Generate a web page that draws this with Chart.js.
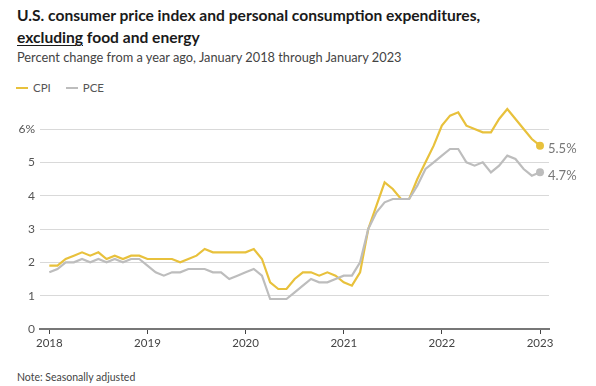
<!DOCTYPE html>
<html lang="en">
<head>
<meta charset="UTF-8">
<title>CPI and PCE excluding food and energy</title>
<script src="https://cdn.jsdelivr.net/npm/chart.js@4"></script>
<style>
  body { margin: 0; width: 596px; height: 386px; background: #fff; font-family: Lato, "Open Sans", sans-serif; color: #222; position: relative; overflow: hidden; }
  .title { position: absolute; left: 17px; top: 4px; font-size: 15.6px; font-weight: 700; line-height: 22px; color: #1a1a1a; }
  .title u { text-decoration-thickness: 1px; text-underline-offset: 2px; }
  .subtitle { position: absolute; left: 17px; top: 49px; font-size: 12.8px; line-height: 16px; color: #444; }
  .legend { position: absolute; left: 16px; top: 81px; font-size: 11.5px; line-height: 14px; color: #555; }
  .legend span { display: inline-block; margin-right: 12px; }
  .legend i { display: inline-block; width: 12px; height: 2px; vertical-align: middle; margin-right: 5px; position: relative; top: -1px; }
  .note { position: absolute; left: 17px; top: 370px; font-size: 10.5px; line-height: 14px; color: #444; }
  .wrap { position: absolute; left: 0; top: 100px; width: 596px; height: 260px; }
</style>
</head>
<body>
  <div class="title">U.S. consumer price index and personal consumption expenditures,<br><u>excluding</u> food and energy</div>
  <div class="subtitle">Percent change from a year ago, January 2018 through January 2023</div>
  <div class="legend">
    <span><i style="background:#e8c13c"></i>CPI</span>
    <span><i style="background:#bdbdbd"></i>PCE</span>
  </div>
  <div class="wrap"><canvas id="chart"></canvas></div>
  <div class="note">Note: Seasonally adjusted</div>

<script>
// monthly values, Jan 2018 .. Jan 2023
const cpi = [
  1.9, 1.9, 2.1, 2.2, 2.3, 2.2, 2.3, 2.1, 2.2, 2.1, 2.2, 2.2,
  2.1, 2.1, 2.1, 2.1, 2.0, 2.1, 2.2, 2.4, 2.3, 2.3, 2.3, 2.3,
  2.3, 2.4, 2.1, 1.4, 1.2, 1.2, 1.5, 1.7, 1.7, 1.6, 1.7, 1.6,
  1.4, 1.3, 1.7, 3.0, 3.7, 4.4, 4.2, 3.9, 3.9, 4.5, 5.0, 5.5,
  6.1, 6.4, 6.5, 6.1, 6.0, 5.9, 5.9, 6.3, 6.6, 6.3, 6.0, 5.7,
  5.5
];
const pce = [
  1.7, 1.8, 2.0, 2.0, 2.1, 2.0, 2.1, 2.0, 2.1, 2.0, 2.1, 2.1,
  1.9, 1.7, 1.6, 1.7, 1.7, 1.8, 1.8, 1.8, 1.7, 1.7, 1.5, 1.6,
  1.7, 1.8, 1.6, 0.9, 0.9, 0.9, 1.1, 1.3, 1.5, 1.4, 1.4, 1.5,
  1.6, 1.6, 2.0, 3.0, 3.5, 3.8, 3.9, 3.9, 3.9, 4.3, 4.8, 5.0,
  5.2, 5.4, 5.4, 5.0, 4.9, 5.0, 4.7, 4.9, 5.2, 5.1, 4.8, 4.6,
  4.7
];
const yearLabels = ['2018', '2019', '2020', '2021', '2022', '2023'];
const yearTicks = [0, 12, 24, 36, 48, 60];
const yLabels = ['0', '1', '2', '3', '4', '5', '6%'];

const cpiColor = '#e8c13c';
const pceColor = '#bdbdbd';
const last = cpi.length - 1;

const toPoints = arr => arr.map((v, i) => ({ x: i, y: v }));
const endRadius = ctx => (ctx.dataIndex === last ? 4 : 0);

// end-of-line value labels
const endLabels = {
  id: 'endLabels',
  afterDatasetsDraw(chart) {
    const ctx = chart.ctx;
    ctx.save();
    ctx.font = '13px Lato, "Open Sans", sans-serif';
    ctx.fillStyle = '#777';
    ctx.textBaseline = 'middle';
    chart.data.datasets.forEach((ds, i) => {
      const pt = chart.getDatasetMeta(i).data[last];
      ctx.fillText(ds.data[last].y.toFixed(1) + '%', pt.x + 8, pt.y + 3.5);
    });
    ctx.restore();
  }
};

new Chart(document.getElementById('chart'), {
  type: 'line',
  data: {
    datasets: [
      { label: 'PCE', data: toPoints(pce), borderColor: pceColor, backgroundColor: pceColor, borderWidth: 2.2, pointRadius: endRadius, pointBorderWidth: 0, tension: 0, clip: false },
      { label: 'CPI', data: toPoints(cpi), borderColor: cpiColor, backgroundColor: cpiColor, borderWidth: 2.2, pointRadius: endRadius, pointBorderWidth: 0, tension: 0, clip: false }
    ]
  },
  options: {
    responsive: true,
    maintainAspectRatio: false,
    animation: false,
    layout: { padding: { top: 29, right: 47, bottom: 5, left: 0 } },
    plugins: { legend: { display: false }, tooltip: { enabled: false } },
    scales: {
      x: {
        type: 'linear',
        min: -1.14,
        max: 61.1,
        afterBuildTicks: s => { s.ticks = yearTicks.map(v => ({ value: v })); },
        afterFit: s => { s.height = 26; },
        grid: { drawOnChartArea: false, drawTicks: true, tickLength: 5, color: '#444', lineWidth: 1 },
        border: { display: true, color: '#777', width: 2 },
        ticks: {
          color: '#444',
          font: { family: 'Lato, "Open Sans", sans-serif', size: 11.5 },
          padding: 2,
          maxRotation: 0,
          callback: v => yearLabels[yearTicks.indexOf(v)]
        }
      },
      y: {
        min: 0,
        max: 6,
        afterBuildTicks: s => { s.ticks = yLabels.map((_, i) => ({ value: i })); },
        afterFit: s => { s.width = 40; },
        grid: { color: '#d9d9d9', lineWidth: 1, drawTicks: false },
        border: { display: false },
        ticks: {
          color: '#555',
          font: { family: 'Lato, "Open Sans", sans-serif', size: 12 },
          padding: 5,
          callback: v => yLabels[v]
        }
      }
    }
  },
  plugins: [endLabels]
});
</script>
</body>
</html>
